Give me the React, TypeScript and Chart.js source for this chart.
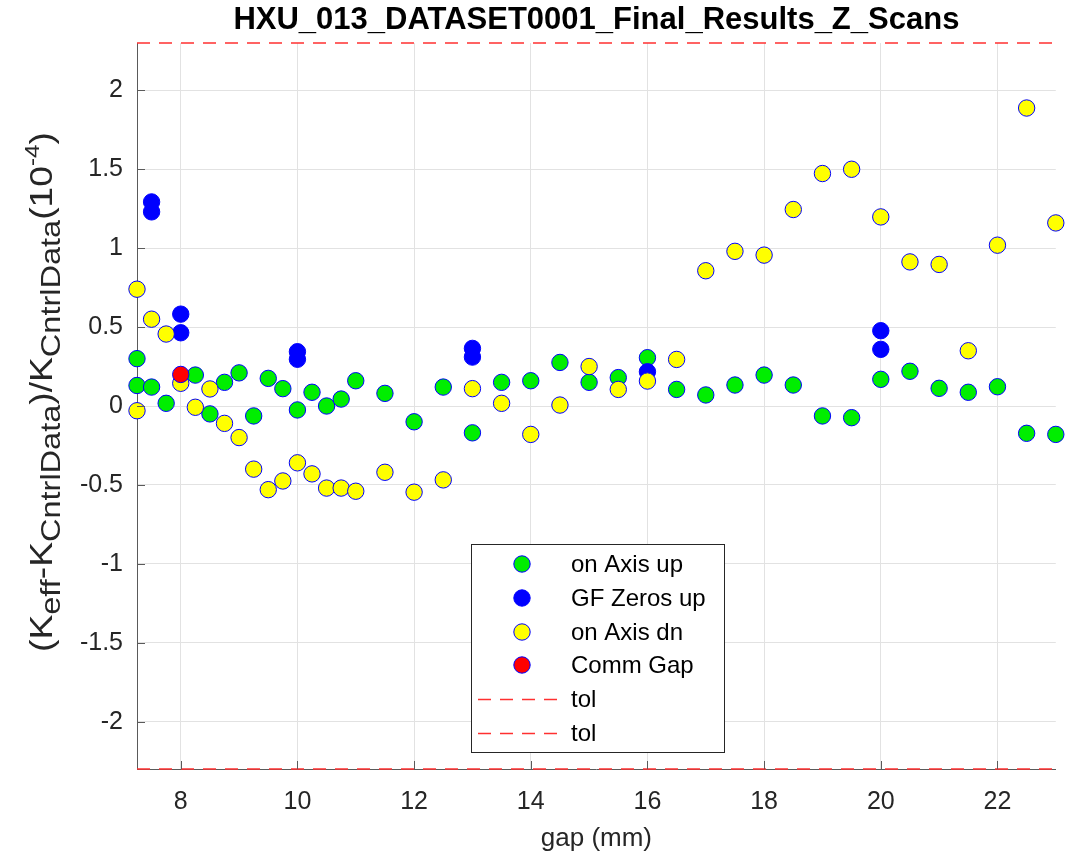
import React, { useEffect, useRef } from "react";
import { Chart, registerables } from "chart.js";

Chart.register(...registerables);

// ---- data ----
const xTicks = [8, 10, 12, 14, 16, 18, 20, 22];
const yTicks = [-2, -1.5, -1, -0.5, 0, 0.5, 1, 1.5, 2];
const xMin = 7.25;
const xMax = 23;
const yMin = -2.3;
const yMax = 2.3;

const titleText = "HXU_013_DATASET0001_Final_Results_Z_Scans";
const xLabelText = "gap (mm)";

const upGap = [7.25, 7.25, 7.5, 7.75, 8.25, 8.5, 8.75, 9, 9.25, 9.5, 9.75, 10, 10.25, 10.5, 10.75, 11, 11.5, 12, 12.5, 13, 13.5, 14, 14.5, 15, 15.5, 16, 16.5, 17, 17.5, 18, 18.5, 19, 19.5, 20, 20.5, 21, 21.5, 22, 22.5, 23];
const upVal = [0.30, 0.13, 0.12, 0.017, 0.196, -0.05, 0.15, 0.21, -0.063, 0.175, 0.11, -0.025, 0.087, 0.0, 0.044, 0.16, 0.08, -0.10, 0.12, -0.17, 0.15, 0.16, 0.276, 0.15, 0.18, 0.306, 0.105, 0.07, 0.133, 0.196, 0.133, -0.063, -0.074, 0.169, 0.22, 0.112, 0.087, 0.122, -0.173, -0.18];

const gfGap = [7.5, 7.5, 8, 8, 10, 10, 13, 13, 16, 20, 20];
const gfVal = [1.293, 1.23, 0.582, 0.464, 0.344, 0.296, 0.365, 0.31, 0.217, 0.477, 0.359];

const dnGap = [7.25, 7.25, 7.5, 7.75, 8, 8.25, 8.5, 8.75, 9, 9.25, 9.5, 9.75, 10, 10.25, 10.5, 10.75, 11, 11.5, 12, 12.5, 13, 13.5, 14, 14.5, 15, 15.5, 16, 16.5, 17, 17.5, 18, 18.5, 19, 19.5, 20, 20.5, 21, 21.5, 22, 22.5, 23];
const dnVal = [0.74, -0.03, 0.55, 0.456, 0.144, -0.008, 0.108, -0.11, -0.2, -0.40, -0.53, -0.475, -0.36, -0.43, -0.52, -0.52, -0.54, -0.42, -0.546, -0.468, 0.11, 0.017, -0.18, 0.006, 0.25, 0.105, 0.158, 0.295, 0.857, 0.98, 0.956, 1.245, 1.473, 1.5, 1.198, 0.913, 0.897, 0.35, 1.019, 1.888, 1.16];

const commGap = [8];
const commVal = [0.2];

const tolGap = [7.25, 23];
const tolUpperVal = [2.3, 2.3];
const tolLowerVal = [-2.3, -2.3];

const zip = (xs: number[], ys: number[]) => xs.map((x, i) => ({ x, y: ys[i] }));

const FONT = "'Liberation Sans', Arial, Helvetica, sans-serif";
const TEXT = "#262626";
const AXIS = "#5a5a5a";
const TOL = "#ff3030";
const EDGE = "#0000ff";

const markerDs = (label: string, pts: { x: number; y: number }[], fill: string, order: number) => ({
  type: "scatter" as const,
  label,
  data: pts,
  backgroundColor: fill,
  borderColor: EDGE,
  borderWidth: 1,
  pointRadius: 8.2,
  pointHoverRadius: 8.2,
  showLine: false,
  clip: false as any,
  order,
});

const decorations = {
  id: "matlabDecor",
  afterDraw(chart: any) {
    const ctx: CanvasRenderingContext2D = chart.ctx;
    const { left, right, top, bottom } = chart.chartArea;
    const xs = chart.scales.x;
    const ys = chart.scales.y;
    ctx.save();

    // inward ticks
    ctx.strokeStyle = AXIS;
    ctx.lineWidth = 1;
    ctx.beginPath();
    yTicks.forEach((v) => {
      const y = Math.round(ys.getPixelForValue(v)) + 0.5;
      ctx.moveTo(left, y);
      ctx.lineTo(left + 8, y);
    });
    xTicks.forEach((v) => {
      const x = Math.round(xs.getPixelForValue(v)) + 0.5;
      ctx.moveTo(x, bottom);
      ctx.lineTo(x, bottom - 8);
    });
    ctx.stroke();

    // title
    ctx.fillStyle = "#000";
    ctx.font = `bold 31px ${FONT}`;
    ctx.textAlign = "center";
    ctx.textBaseline = "alphabetic";
    ctx.fillText(titleText, (left + right) / 2, 29);

    // x label
    ctx.fillStyle = TEXT;
    ctx.font = `26px ${FONT}`;
    ctx.fillText(xLabelText, (left + right) / 2, 846);

    // y label with sub/superscripts
    const segs: { t: string; k: "m" | "sub" | "sup" }[] = [
      { t: "(K", k: "m" },
      { t: "eff", k: "sub" },
      { t: "-K", k: "m" },
      { t: "CntrlData", k: "sub" },
      { t: ")/K", k: "m" },
      { t: "CntrlData", k: "sub" },
      { t: "(10", k: "m" },
      { t: "-4", k: "sup" },
      { t: ")", k: "m" },
    ];
    const fontOf = (k: string) => (k === "m" ? `32px ${FONT}` : k === "sub" ? `28px ${FONT}` : `21px ${FONT}`);
    const shiftOf = (k: string) => (k === "m" ? 0 : k === "sub" ? 8 : -13);
    let total = 0;
    const widths = segs.map((s) => {
      ctx.font = fontOf(s.k);
      const w = ctx.measureText(s.t).width;
      total += w;
      return w;
    });
    const targetLen = 520;
    const stretch = targetLen / total;
    ctx.save();
    ctx.translate(52, 392);
    ctx.rotate(-Math.PI / 2);
    ctx.scale(stretch, 1);
    ctx.textAlign = "left";
    ctx.textBaseline = "alphabetic";
    let pos = -total / 2;
    segs.forEach((s, i) => {
      ctx.font = fontOf(s.k);
      ctx.fillText(s.t, pos, shiftOf(s.k));
      pos += widths[i];
    });
    ctx.restore();

    // legend
    const bx = 471.5, by = 544.5, bw = 253, bh = 208;
    ctx.fillStyle = "#fff";
    ctx.fillRect(bx, by, bw, bh);
    ctx.strokeStyle = TEXT;
    ctx.lineWidth = 1;
    ctx.strokeRect(bx, by, bw, bh);
    const rowsY = [564, 598, 632, 665, 699, 733];
    const dsets = chart.data.datasets;
    ctx.font = `24px ${FONT}`;
    ctx.textAlign = "left";
    ctx.textBaseline = "middle";
    dsets.forEach((ds: any, i: number) => {
      const y = rowsY[i];
      if (ds.type === "scatter") {
        ctx.beginPath();
        ctx.arc(522, y, 8.2, 0, Math.PI * 2);
        ctx.fillStyle = ds.backgroundColor;
        ctx.fill();
        ctx.strokeStyle = ds.borderColor;
        ctx.lineWidth = 1;
        ctx.stroke();
      } else {
        ctx.beginPath();
        ctx.setLineDash([13, 9]);
        ctx.strokeStyle = ds.borderColor;
        ctx.lineWidth = 1.5;
        ctx.moveTo(478, y + 0.5);
        ctx.lineTo(561, y + 0.5);
        ctx.stroke();
        ctx.setLineDash([]);
      }
      ctx.fillStyle = "#000";
      ctx.fillText(ds.label, 571, y + 1);
    });

    ctx.restore();
  },
};

export default function App() {
  const canvasRef = useRef<HTMLCanvasElement | null>(null);

  useEffect(() => {
    const canvas = canvasRef.current;
    if (!canvas) return;
    const chart = new Chart(canvas, {
      type: "scatter",
      data: {
        datasets: [
          markerDs("on Axis up", zip(upGap, upVal), "#00ee00", 6),
          markerDs("GF Zeros up", zip(gfGap, gfVal), "#0000ff", 5),
          markerDs("on Axis dn", zip(dnGap, dnVal), "#ffff00", 4),
          markerDs("Comm Gap", zip(commGap, commVal), "#ff0000", 3),
          {
            type: "line" as const,
            label: "tol",
            data: zip(tolGap, tolUpperVal),
            borderColor: TOL,
            borderWidth: 1.5,
            borderDash: [13, 9],
            pointRadius: 0,
            fill: false,
            clip: false as any,
            order: 2,
          },
          {
            type: "line" as const,
            label: "tol",
            data: zip(tolGap, tolLowerVal),
            borderColor: TOL,
            borderWidth: 1.5,
            borderDash: [13, 9],
            pointRadius: 0,
            fill: false,
            clip: false as any,
            order: 1,
          },
        ] as any,
      },
      options: {
        animation: false,
        responsive: false,
        devicePixelRatio: 1,
        events: [],
        layout: { padding: { top: 43, right: 7, left: 0, bottom: 0 } },
        plugins: {
          legend: { display: false },
          title: { display: false },
          tooltip: { enabled: false },
        },
        scales: {
          x: {
            type: "linear",
            min: xMin,
            max: xMax,
            afterBuildTicks: (s: any) => {
              s.ticks = xTicks.map((v) => ({ value: v }));
            },
            afterFit: (s: any) => {
              s.height = 96;
            },
            grid: { color: "#e2e2e2", drawTicks: false, lineWidth: 1 },
            border: { display: true, color: AXIS, width: 1 },
            ticks: {
              padding: 18,
              maxRotation: 0,
              autoSkip: false,
              color: TEXT,
              font: { family: FONT, size: 25 },
              callback: (v: any) => String(v),
            },
          },
          y: {
            type: "linear",
            min: yMin,
            max: yMax,
            afterBuildTicks: (s: any) => {
              s.ticks = yTicks.map((v) => ({ value: v }));
            },
            afterFit: (s: any) => {
              s.width = 137;
            },
            grid: { color: "#e2e2e2", drawTicks: false, lineWidth: 1 },
            border: { display: true, color: AXIS, width: 1 },
            ticks: {
              padding: 14,
              autoSkip: false,
              color: TEXT,
              font: { family: FONT, size: 25 },
              callback: (v: any) => String(v),
            },
          },
        },
      } as any,
      plugins: [decorations],
    });
    return () => chart.destroy();
  }, []);

  return (
    <div style={{ position: "fixed", left: 0, top: 0, width: 1065, height: 865, background: "#fff" }}>
      <canvas ref={canvasRef} width={1065} height={865} style={{ display: "block" }} />
    </div>
  );
}
